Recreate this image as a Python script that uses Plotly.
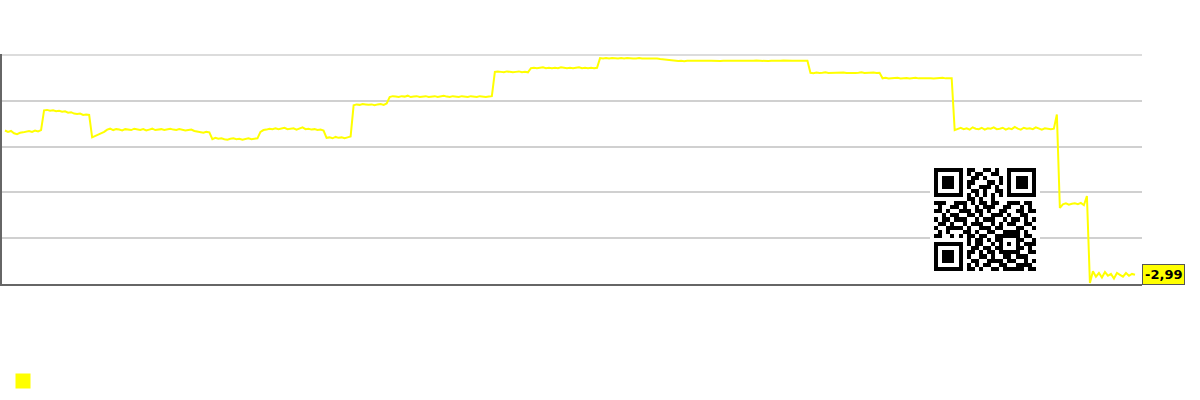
import plotly.graph_objects as go

# ---- series values ----
seg_a = [12.75, 12.6, 12.7, 12.45, 12.35, 12.5, 12.55, 12.6, 12.7, 12.6, 12.75, 12.65, 12.8]
seg_b = [14.95, 15.0, 14.9, 14.95, 14.85, 14.9, 14.8, 14.85, 14.7, 14.75, 14.6, 14.55, 14.6, 14.45, 14.5, 14.45]
seg_c = [12.0, 12.15, 12.3, 12.45, 12.6]
seg_d = [12.85, 12.95, 12.8, 12.9, 12.85, 12.75, 12.9, 12.85, 12.8, 12.95, 12.85, 12.8, 12.9, 12.75,
         12.85, 12.95, 12.8, 12.85, 12.9, 12.8, 12.85, 12.95, 12.85, 12.8, 12.9, 12.85, 12.75, 12.8,
         12.85, 12.7, 12.65, 12.55, 12.5, 12.6, 12.55]
seg_e = [11.8, 11.95, 11.85, 11.9, 11.8, 11.75, 11.85, 11.9, 11.8, 11.85, 11.75, 11.8, 11.9, 11.8, 11.85, 11.9]
seg_f = [12.6, 12.8, 12.85, 12.95, 12.9, 13.0, 12.9, 12.95, 13.05, 12.9, 12.95, 13.0, 12.85, 12.95,
         13.1, 12.9, 12.95, 12.85, 12.9, 12.8, 12.85, 12.75]
seg_g = [11.95, 12.0, 11.9, 12.05, 11.95, 12.0, 11.9, 12.0, 12.1]
seg_h = [15.5, 15.6, 15.55, 15.65, 15.6, 15.55, 15.6, 15.5, 15.6, 15.65, 15.55, 15.7]
seg_i = [16.4, 16.5, 16.45, 16.4, 16.5, 16.45, 16.55, 16.4, 16.45, 16.5, 16.4, 16.45, 16.5, 16.4,
         16.45, 16.5, 16.4, 16.45, 16.55, 16.45, 16.4, 16.5, 16.45, 16.4, 16.5, 16.45, 16.4, 16.5,
         16.45, 16.4, 16.5, 16.45, 16.4, 16.45, 16.5]
seg_j = [19.15, 19.2, 19.15, 19.1, 19.2, 19.15, 19.1, 19.15, 19.2, 19.1, 19.15, 19.1]
seg_k = [19.55, 19.6, 19.55, 19.6, 19.65, 19.55, 19.6, 19.55, 19.6, 19.55, 19.65, 19.6, 19.55, 19.6,
         19.55, 19.6, 19.65, 19.55, 19.6, 19.55, 19.6, 19.55, 19.6]
seg_l = [20.65, 20.6, 20.65, 20.6, 20.65, 20.6, 20.62, 20.65, 20.6, 20.65, 20.6, 20.62, 20.6, 20.65,
         20.6, 20.62, 20.65, 20.6, 20.6, 20.62, 20.55, 20.5, 20.45, 20.4]
seg_m = [20.35, 20.38, 20.33, 20.36, 20.32, 20.37, 20.35, 20.33, 20.38, 20.35, 20.36, 20.32, 20.35,
         20.37, 20.34, 20.36, 20.33, 20.35, 20.38, 20.34, 20.36, 20.35, 20.33, 20.37, 20.35, 20.36,
         20.33, 20.35, 20.38, 20.35, 20.34, 20.36, 20.33, 20.37, 20.35, 20.34, 20.36, 20.38, 20.35,
         20.33, 20.36, 20.35, 20.37, 20.34, 20.36, 20.35]
seg_n = [19.05, 19.0, 19.08, 19.02, 19.05, 19.1, 19.03, 19.05, 19.0, 19.06, 19.04, 19.08, 19.02,
         19.05, 19.07, 19.03, 19.05, 19.1, 19.02, 19.05, 19.04, 19.08, 19.03, 19.06]
seg_o = [18.45, 18.5, 18.42, 18.47, 18.44, 18.5, 18.43, 18.46, 18.48, 18.42, 18.45, 18.5, 18.44,
         18.46, 18.42, 18.48, 18.45, 18.43, 18.47, 18.45, 18.5, 18.44, 18.46, 18.45]
seg_p = [12.8, 12.95, 13.05, 12.9, 13.0, 12.85, 13.1, 12.95, 12.9, 13.05, 12.85, 13.0, 12.95, 13.1,
         12.9, 12.95, 13.05, 12.85, 13.0, 12.9, 13.15, 12.95, 12.85, 13.05, 12.95, 13.0, 12.9, 13.1,
         12.95, 12.85, 13.0, 12.95, 12.9, 12.95, 14.5]
seg_q = [4.3, 4.7, 4.8, 4.65, 4.75, 4.8, 4.7, 4.85, 4.6, 5.6]
seg_r = [-3.9, -2.6, -3.2, -2.8, -3.3, -2.7, -3.1, -2.9, -3.4, -2.8, -3.0, -3.2, -2.8, -3.1, -2.9, -2.99]

values = (seg_a + seg_b + seg_c + seg_d + seg_e + seg_f + seg_g + seg_h + seg_i + seg_j + seg_k
          + seg_l + seg_m + seg_n + seg_o + seg_p + seg_q + seg_r)
last_label = "-2,99"
y_top_grid = 21

# ---- QR code modules (decorative image) ----
F0, F1, F2 = "1111111", "1000001", "1011101"
qr_rows = [
    F0 + "0" + "110011010" + "0" + F0,
    F1 + "0" + "101100110" + "0" + F1,
    F2 + "0" + "011010001" + "0" + F2,
    F2 + "0" + "110001101" + "0" + F2,
    F2 + "0" + "100111010" + "0" + F2,
    F1 + "0" + "011010011" + "0" + F1,
    F0 + "0" + "101010101" + "0" + F0,
    "0000000" + "0" + "110100100" + "0" + "0000000",
    "111001" + "1" + "101011011001110110",
    "010011" + "0" + "100101110011001010",
    "110100" + "1" + "110110100110011011",
    "001011" + "0" + "011010011101001100",
    "101101" + "1" + "100101110010110101",
    "011010" + "0" + "101110010101100110",
    "100111" + "1" + "010011101100011001",
    "010100" + "0" + "110100110011110100",
    "110010" + "1" + "011011001" + "11111" + "0110",
    "0000000" + "0" + "1" + "0110101" + "10001" + "1001",
    F0 + "0" + "10110010" + "10101" + "0111",
    F1 + "0" + "01101101" + "10001" + "1010",
    F2 + "0" + "11010110" + "11111" + "0011",
    F2 + "0" + "10011010" + "01101" + "1100",
    F2 + "0" + "01100111" + "10110" + "0101",
    F1 + "0" + "10101100" + "11001" + "1110",
    F0 + "0" + "11010011" + "01111" + "1011",
]

n = len(values)
xs = list(range(n))
W = 1140.0
H = 230.0
step = (1135 - 5) / (n - 1)
x_lo = -(5 - 2) / step
x_hi = x_lo + W / step

qr_size = len(qr_rows) + 2
qr_z = [[0] * qr_size]
for r in qr_rows:
    qr_z.append([0] + [int(c) for c in r] + [0])
qr_z.append([0] * qr_size)

fig = go.Figure()
fig.add_trace(go.Scatter(
    x=xs, y=values, mode="lines",
    line=dict(color="#ffff00", width=2),
    showlegend=False, hoverinfo="skip",
))
fig.add_trace(go.Scatter(
    x=[None], y=[None], mode="markers", name=" ",
    marker=dict(symbol="square", size=15, color="#ffff00"),
    showlegend=True,
))
fig.add_trace(go.Heatmap(
    z=qr_z, xaxis="x2", yaxis="y2",
    colorscale=[[0, "#ffffff"], [1, "#000000"]], zmin=0, zmax=1,
    showscale=False, hoverinfo="skip",
))

fig.add_shape(type="line", xref="paper", x0=0, x1=1, yref="y", y0=y_top_grid, y1=y_top_grid,
              line=dict(color="#d0d0d0", width=1.5), layer="below")

fig.add_annotation(
    x=1, xref="paper", xanchor="left", y=values[-1], yref="y", yanchor="middle",
    text="<b>" + last_label + "</b>", showarrow=False,
    font=dict(family="DejaVu Sans", size=13, color="#000000"),
    bgcolor="#ffff00", bordercolor="#555555", borderwidth=1, borderpad=2,
)

fig.update_layout(
    width=1200, height=400,
    margin=dict(l=2, r=58, t=54, b=116),
    paper_bgcolor="#ffffff", plot_bgcolor="#ffffff",
    xaxis=dict(range=[x_lo, x_hi], showgrid=False, zeroline=False, showticklabels=False,
               showline=True, linecolor="#666666", linewidth=2, ticks=""),
    yaxis=dict(range=[-4, 21.1], tick0=1, dtick=5, showgrid=True, gridcolor="#d0d0d0", gridwidth=1.5,
               zeroline=False, showticklabels=False, showline=True, linecolor="#666666",
               linewidth=2, ticks=""),
    xaxis2=dict(domain=[928 / 1140, 1038 / 1140], range=[-0.5, qr_size - 0.5], anchor="y2",
                visible=False, fixedrange=True),
    yaxis2=dict(domain=[(284 - 275) / H, (284 - 164) / H], range=[qr_size - 0.5, -0.5], anchor="x2",
                visible=False, fixedrange=True),
    legend=dict(orientation="h", x=3 / 1200, xref="container", xanchor="left",
                y=19 / 400, yref="container", yanchor="middle",
                font=dict(size=12), itemsizing="trace"),
    hovermode=False,
)

fig.write_html("out.html")
